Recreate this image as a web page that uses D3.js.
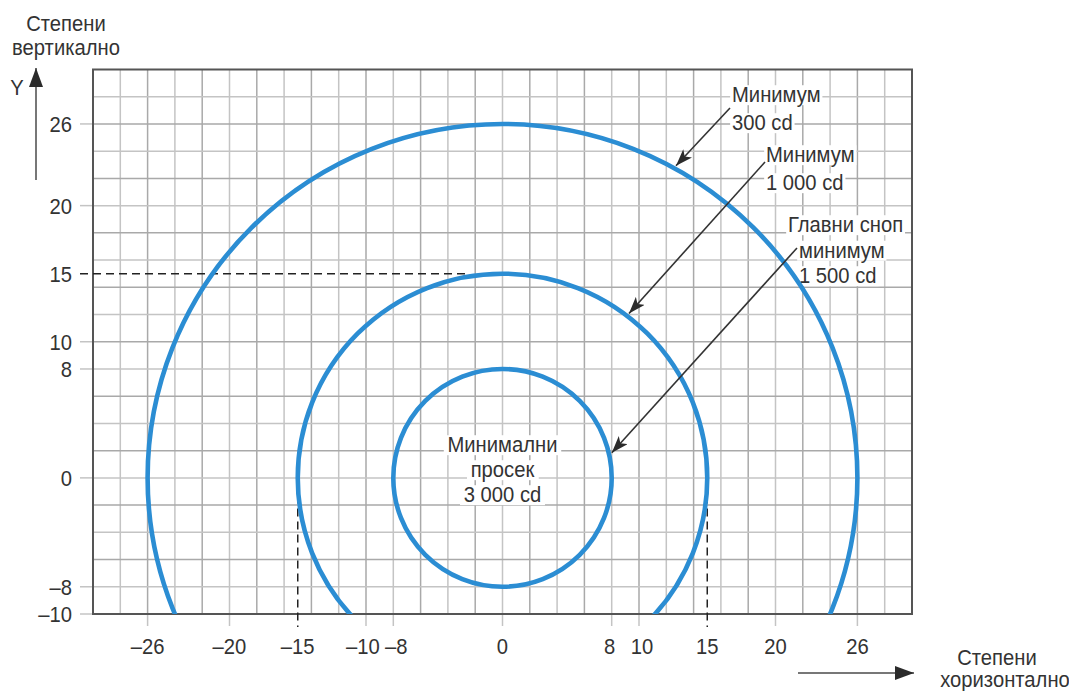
<!DOCTYPE html>
<html><head><meta charset="utf-8">
<script src="https://cdn.jsdelivr.net/npm/d3@7"></script>
<style>
html,body{margin:0;padding:0;background:#fff;}
text{font-family:"Liberation Sans",Arial,sans-serif;fill:#333;}
</style></head>
<body>
<svg id="chart" width="1069" height="691"></svg>
<script>
// ---- data ----
const radii = [26, 15, 8];                       // isophote circles (degrees)
const xTicks = [-26, -20, -15, -10, -8, 0, 8, 10, 15, 20, 26];
const yTicks = [26, 20, 15, 10, 8, 0, -8, -10];
const dashedXTicks = [-15, 15];
const dashedYTicks = [15];
const xDomain = [-30, 30];
const yDomain = [-10, 30];
const gridStep = 2;
const yAxisTitle = ["Степени", "вертикално"];
const xAxisTitle = ["Степени", "хоризонтално"];
const centerLabel = ["Минимални", "просек", "3 000 cd"];
const annotations = [
  {lines: ["Минимум", "300 cd"], r: 26, angle: 61},
  {lines: ["Минимум", "1 000 cd"], r: 15, angle: 52.5},
  {lines: ["Главни сноп", "минимум", "1 500 cd"], r: 8, angle: 13}
];

// ---- layout ----
const svg = d3.select("#chart");
const L = 93, R = 912, T = 69.5, B = 614;
const x = d3.scaleLinear().domain(xDomain).range([L, R]);
const y = d3.scaleLinear().domain(yDomain).range([B, T]);
const FS = 22, SX = 0.92;
const fmt = d => d < 0 ? "\u2013" + Math.abs(d) : String(d);

const defs = svg.append("defs");
defs.append("clipPath").attr("id", "plotclip").append("rect")
  .attr("x", L).attr("y", T).attr("width", R - L).attr("height", B - T);
defs.append("marker").attr("id", "ah").attr("viewBox", "0 0 10 10")
  .attr("preserveAspectRatio", "none")
  .attr("refX", 10).attr("refY", 5).attr("markerWidth", 17).attr("markerHeight", 12)
  .attr("markerUnits", "userSpaceOnUse").attr("orient", "auto")
  .append("path").attr("d", "M0,0 L10,5 L0,10 L2.5,5 Z").attr("fill", "#2b2b2b");
defs.append("marker").attr("id", "ahBig").attr("viewBox", "0 0 10 10")
  .attr("preserveAspectRatio", "none")
  .attr("refX", 10).attr("refY", 5).attr("markerWidth", 19).attr("markerHeight", 14)
  .attr("markerUnits", "userSpaceOnUse").attr("orient", "auto")
  .append("path").attr("d", "M0,0 L10,5 L0,10 Z").attr("fill", "#2b2b2b");

// text helper: slightly condensed text, optional white background
function txt(g, str, tx, ty, anchor, pad) {
  const grp = g.append("g").attr("transform", `translate(${tx},${ty}) scale(${SX},1)`);
  const rect = pad != null ? grp.append("rect").attr("fill", "#fff") : null;
  const t = grp.append("text").attr("x", 0).attr("y", 0).attr("text-anchor", anchor)
    .attr("font-size", FS).text(str);
  if (rect) {
    const bb = t.node().getBBox();
    rect.attr("x", bb.x - pad).attr("y", bb.y + 3).attr("width", bb.width + 2 * pad).attr("height", bb.height - 4);
  }
  return grp;
}

// grid
const gx = d3.range(xDomain[0] + gridStep, xDomain[1], gridStep);
const gy = d3.range(yDomain[0] + gridStep, yDomain[1], gridStep);
const grid = svg.append("g");
grid.selectAll(".vx").data(gx).join("line")
  .attr("x1", d => x(d)).attr("x2", d => x(d)).attr("y1", T).attr("y2", B)
  .attr("stroke", (d, i) => i % 2 ? "#a9a9a9" : "#c4c4c4").attr("stroke-width", 1.5);
grid.selectAll(".hy").data(gy).join("line")
  .attr("y1", d => y(d)).attr("y2", d => y(d)).attr("x1", L).attr("x2", R)
  .attr("stroke", (d, i) => i % 2 ? "#a9a9a9" : "#c4c4c4").attr("stroke-width", 1.5);

// tick extension lines
svg.append("g").selectAll("line").data(yTicks.filter(d => !dashedYTicks.includes(d))).join("line")
  .attr("x1", 80).attr("x2", L).attr("y1", d => y(d)).attr("y2", d => y(d))
  .attr("stroke", "#c4c4c4").attr("stroke-width", 1.5);
svg.append("g").selectAll("line").data(xTicks.filter(d => !dashedXTicks.includes(d))).join("line")
  .attr("y1", B).attr("y2", B + 12).attr("x1", d => x(d)).attr("x2", d => x(d))
  .attr("stroke", "#c4c4c4").attr("stroke-width", 1.5);

// frame
svg.append("rect").attr("x", L).attr("y", T).attr("width", R - L).attr("height", B - T)
  .attr("fill", "none").attr("stroke", "#555").attr("stroke-width", 2);

// center label (under circles)
const cg = svg.append("g");
centerLabel.forEach((s, i) => txt(cg, s, x(0), 452 + i * 25, "middle", 4));

// annotation labels
const ag = svg.append("g");
const annPos = [[732, 102], [766, 162], [788, 232]];
const annLH = [28, 28, 25.5];
annotations.forEach((a, k) => {
  a.lines.forEach((s, i) => {
    const dx = (k === 2 && i > 0) ? 11 : 0;
    txt(ag, s, annPos[k][0] + dx, annPos[k][1] + i * annLH[k], "start", 2);
  });
});

// dashed guide lines
const dg = svg.append("g").attr("stroke", "#222").attr("stroke-width", 1.5).attr("stroke-dasharray", "8,5");
dashedYTicks.forEach(v => {
  dg.append("line").attr("x1", 80).attr("x2", x(-2.4)).attr("y1", y(v)).attr("y2", y(v));
});
dashedXTicks.forEach(v => {
  dg.append("line").attr("x1", x(v)).attr("x2", x(v)).attr("y1", y(-1.3)).attr("y2", B + 13);
});

// circles
svg.append("g").attr("clip-path", "url(#plotclip)").selectAll("ellipse").data(radii).join("ellipse")
  .attr("cx", x(0)).attr("cy", y(0))
  .attr("rx", d => x(d) - x(0)).attr("ry", d => y(0) - y(d))
  .attr("fill", "none").attr("stroke", "#2b8dd3").attr("stroke-width", 4.6);

// annotation arrows
const arrowStarts = [[730, 108], [765, 162], [797, 248]];
annotations.forEach((a, k) => {
  const rad = a.angle * Math.PI / 180;
  const tx = x(a.r * Math.cos(rad)) + 3 * Math.cos(rad);
  const ty = y(a.r * Math.sin(rad)) - 3 * Math.sin(rad);
  svg.append("line").attr("x1", arrowStarts[k][0]).attr("y1", arrowStarts[k][1])
    .attr("x2", tx).attr("y2", ty).attr("stroke", "#333").attr("stroke-width", 1.6)
    .attr("marker-end", "url(#ah)");
});

// tick labels
const yl = svg.append("g");
yTicks.forEach(d => txt(yl, fmt(d), 72, y(d) + 8, "end"));
const xl = svg.append("g");
const xNudge = {"-10": -3, "-8": 3, "8": -2, "10": 3};
xTicks.forEach(d => txt(xl, fmt(d), x(d) + (xNudge[d] || 0), 654, "middle"));

// axis titles and arrows
const tg = svg.append("g");
yAxisTitle.forEach((s, i) => txt(tg, s, 66, 31 + i * 24, "middle"));
txt(tg, "Y", 17, 95, "middle");
svg.append("line").attr("x1", 36).attr("x2", 36).attr("y1", 180).attr("y2", 68)
  .attr("stroke", "#777").attr("stroke-width", 2).attr("marker-end", "url(#ahBig)");
svg.append("line").attr("x1", 798).attr("x2", 914).attr("y1", 673).attr("y2", 673)
  .attr("stroke", "#777").attr("stroke-width", 2).attr("marker-end", "url(#ahBig)");
xAxisTitle.forEach((s, i) => txt(tg, s, 997 + i * 8, 665 + i * 22, "middle"));
</script>
</body></html>
